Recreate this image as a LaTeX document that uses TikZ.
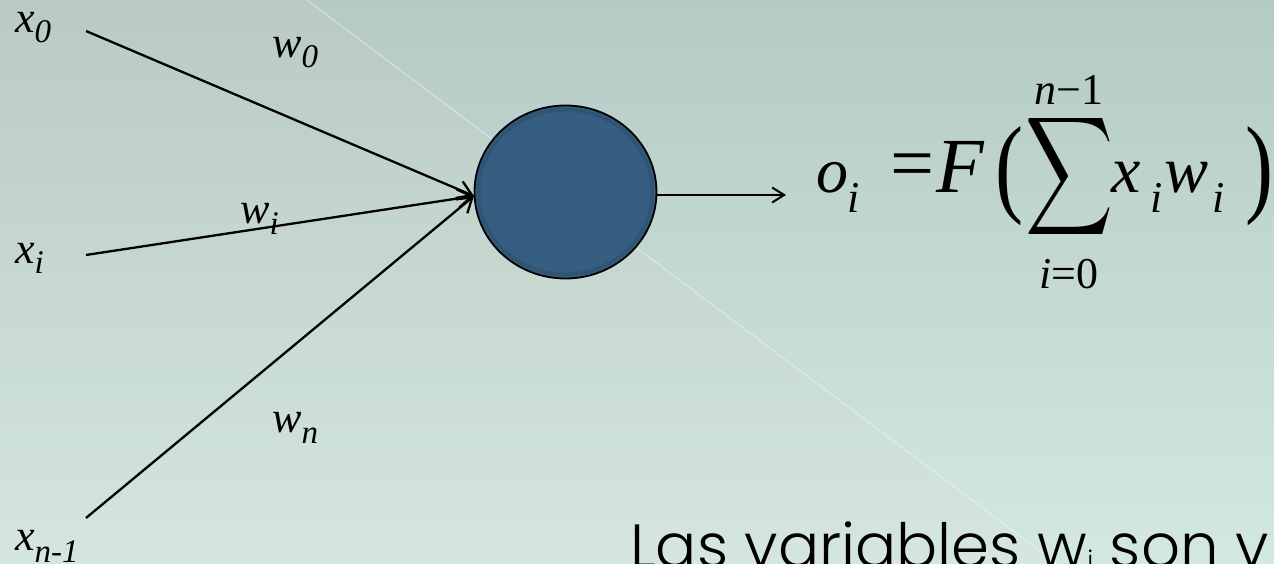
\documentclass[tikz,border=0pt]{standalone}
\usepackage{fontspec}
\setmainfont{Liberation Serif}
\newfontfamily\popfont{Poppins Light}
\usetikzlibrary{arrows.meta,shapes.geometric}
\newcommand\fs[1]{\fontsize{#1}{#1}\selectfont}
\definecolor{bgtop}{HTML}{B6CAC5}
\definecolor{bgbot}{HTML}{D3E8E2}
\definecolor{warm}{HTML}{E2D6B8}
\definecolor{neuronfill}{HTML}{365E80}
\definecolor{neuronrim}{HTML}{2A4A66}
\tikzset{
  lbl/.style={inner sep=0pt, anchor=base west},
  glyph/.style={inner sep=0pt},
  conn/.style={line width=2.3pt, -{Straight Barb[length=14pt,width=18pt]}},
  outconn/.style={line width=2pt, -{Straight Barb[length=12pt,width=15pt]}},
}
\begin{document}
\begin{tikzpicture}[x=1pt,y=-1pt]
\useasboundingbox (0,0) rectangle (1274,564);
% background
\fill[top color=bgtop, bottom color=bgbot] (0,0) rectangle (1274,564);
\fill[warm, opacity=0.08] (0,0) -- (307,0) -- (1057,564) -- (0,564) -- cycle;
\draw[white, opacity=0.5, line width=0.8pt] (307,0) -- (1057,564);

% neuron
\node[ellipse, draw=black, line width=1.8pt, fill=neuronfill,
      minimum width=182pt, minimum height=173pt, inner sep=0pt] (neuron) at (565.5,192) {};
\draw[neuronrim, opacity=0.45, line width=4pt]
  (neuron.center) ellipse [x radius=87pt, y radius=82.5pt];

% input end points
\coordinate (in0) at (86,31);
\coordinate (ini) at (86,255);
\coordinate (inn) at (86,518);
\coordinate (tip) at (474,196);
\coordinate (out) at (786,195);

\draw[conn] (in0) -- (tip);
\draw[conn] (ini) -- (tip);
\draw[conn] (inn) -- (tip);
\draw[outconn] (neuron.east) ++(0,3) coordinate (nout) (nout) -- (out);

% input labels
\node[lbl] (lx0) at (15,33) {\fs{44}\itshape x\fs{33}\raisebox{-10pt}{0}};
\node[lbl] (lxi) at (15,263) {\fs{44}\itshape x\fs{33}\raisebox{-10pt}{i}};
\node[lbl] (lxn) at (15,550) {\fs{44}\itshape x\fs{33}\raisebox{-12pt}{n-1}};
% weight labels
\node[lbl] (lw0) at (272,58) {\fs{44}\itshape w\fs{33}\raisebox{-10pt}{0}};
\node[lbl] (lwi) at (240,224) {\fs{44}\itshape w\fs{33}\raisebox{-10pt}{i}};
\node[lbl] (lwn) at (272,432) {\fs{44}\itshape w\fs{33}\raisebox{-11pt}{n}};

% formula
\node[lbl] (fo) at (816,193) {\fs{64}\itshape o};
\node[lbl] (foi) at (847,213) {\fs{44}\itshape i};
\node[glyph, anchor=base] (feq) at (912,190) {\fs{78}=};
\node[lbl] (fF) at (936,193) {\fs{78}\itshape F};
\node[glyph] (flp) at (1009,176) {\resizebox{28pt}{76pt}{(}};
\node[glyph] (fsum) at (1069.5,177) {\resizebox{88pt}{87pt}{$\displaystyle\sum$}};
\node[glyph, anchor=base] (fup) at (1069,105) {\fs{44}\itshape n\upshape −1};
\node[glyph, anchor=base] (flo) at (1069,288) {\fs{44}\itshape i\upshape =0};
\node[lbl] (fx) at (1111,193) {\fs{66}\itshape x};
\node[lbl] (fxi) at (1150,213) {\fs{44}\itshape i};
\node[lbl] (fw) at (1164,193) {\fs{66}\itshape w};
\node[lbl] (fwi) at (1212,213) {\fs{44}\itshape i};
\node[glyph] (frp) at (1259,176) {\resizebox{28pt}{76pt}{)}};

% bottom text
\node[lbl] (bottom) at (630,567) {\popfont\fs{61}Las variables w\fs{26}\raisebox{-2pt}{i}\fs{61} son v};
\end{tikzpicture}
\end{document}
